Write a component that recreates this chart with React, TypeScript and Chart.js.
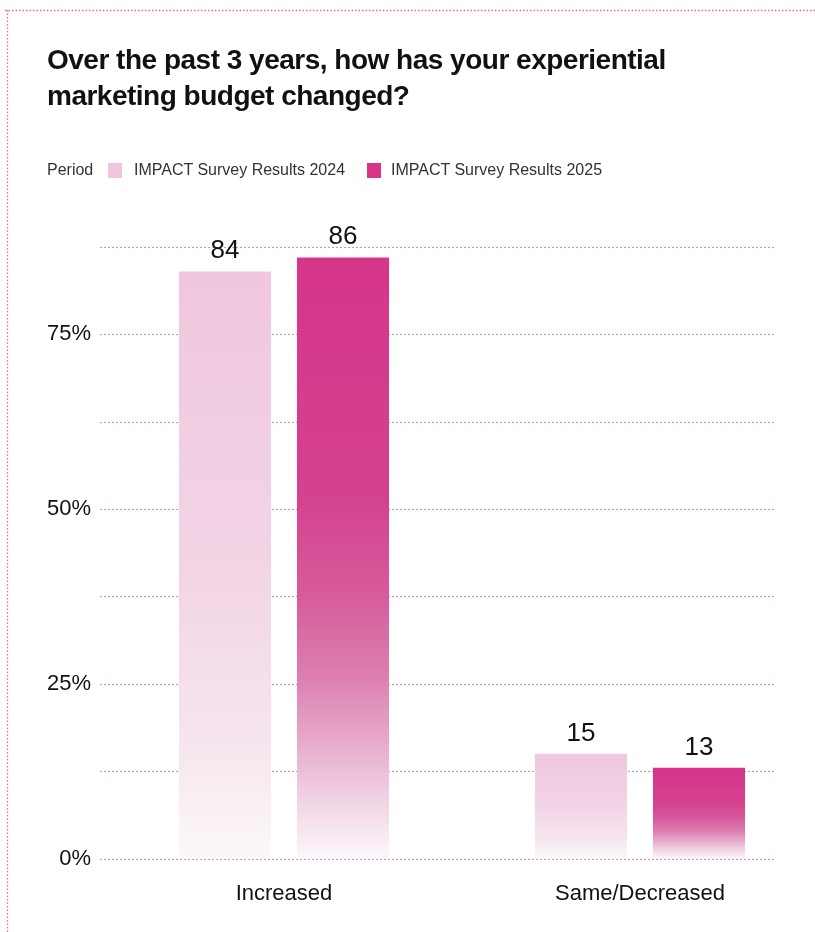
import React, { useEffect, useRef } from "react";
import { Chart, registerables } from "chart.js";

Chart.register(...registerables);

const categories = ["Increased", "Same/Decreased"];
const series2024 = [84, 15];
const series2025 = [86, 13];
const seriesNames = ["IMPACT Survey Results 2024", "IMPACT Survey Results 2025"];
const yTickValues = [0, 25, 50, 75];
const titleLines = ["Over the past 3 years, how has your experiential", "marketing budget changed?"];

const FONT = "'Liberation Sans', Arial, sans-serif";
const PINK_LIGHT = "#f0c6de";
const PINK_DARK = "#d6358a";

const stops2024: [number, string][] = [
  [0, "#f0c7de"],
  [0.5, "#f2d4e5"],
  [0.8, "#f6e5ee"],
  [1, "#fbf8f9"],
];
const stops2025: [number, string][] = [
  [0, "#d6358a"],
  [0.4, "#d4428f"],
  [0.56, "#d65b9c"],
  [0.7, "#dc80b1"],
  [0.8, "#e6a8ca"],
  [0.9, "#f1d2e3"],
  [1, "#fcf7fa"],
];

function gradientFill(stops: [number, string][], fallback: string) {
  return (ctx: any) => {
    const chart = ctx.chart;
    if (!chart.chartArea || ctx.type !== "data") return fallback;
    const y = chart.scales.y;
    const v = ctx.parsed ? ctx.parsed.y : ctx.raw;
    const top = y.getPixelForValue(v);
    const base = y.getPixelForValue(0);
    const g = chart.ctx.createLinearGradient(0, top, 0, base);
    stops.forEach(([o, c]) => g.addColorStop(o, c));
    return g;
  };
}

const framePlugin = {
  id: "frameAndGrid",
  beforeDatasetsDraw(chart: any) {
    const c = chart.ctx;
    const y = chart.scales.y;
    c.save();
    // frame
    c.strokeStyle = "#ee62aa";
    c.lineWidth = 1.3;
    c.setLineDash([1.5, 2]);
    c.beginPath();
    c.moveTo(5, 10.5);
    c.lineTo(815, 10.5);
    c.moveTo(7.5, 10);
    c.lineTo(7.5, 932);
    c.stroke();
    // grid
    c.lineWidth = 1;
    c.strokeStyle = "#e586bb";
    c.setLineDash([2, 2]);
    y.ticks.forEach((t: any) => {
      const py = Math.round(y.getPixelForValue(t.value)) + 0.5;
      c.beginPath();
      c.moveTo(100, py);
      c.lineTo(775, py);
      c.stroke();
    });
    c.restore();
  },
  afterDatasetsDraw(chart: any) {
    const c = chart.ctx;
    c.save();
    c.fillStyle = "#111";
    c.font = `26px ${FONT}`;
    c.textAlign = "center";
    c.textBaseline = "alphabetic";
    chart.data.datasets.forEach((ds: any, i: number) => {
      const meta = chart.getDatasetMeta(i);
      meta.data.forEach((el: any, j: number) => {
        c.fillText(String(ds.data[j]), el.x, el.y - 13);
      });
    });
    c.restore();
  },
};

export default function App() {
  const ref = useRef<HTMLCanvasElement | null>(null);
  useEffect(() => {
    if (!ref.current) return;
    const chart = new Chart(ref.current, {
      type: "bar",
      data: {
        labels: categories,
        datasets: [
          {
            label: seriesNames[0],
            data: series2024,
            backgroundColor: gradientFill(stops2024, PINK_LIGHT),
            borderWidth: 0,
            categoryPercentage: 0.663,
            barPercentage: 0.78,
          },
          {
            label: seriesNames[1],
            data: series2025,
            backgroundColor: gradientFill(stops2025, PINK_DARK),
            borderWidth: 0,
            categoryPercentage: 0.663,
            barPercentage: 0.78,
          },
        ],
      },
      options: {
        animation: false,
        responsive: false,
        maintainAspectRatio: false,
        layout: { padding: { top: 247, right: 175, bottom: 3, left: 0 } },
        plugins: { legend: { display: false }, tooltip: { enabled: false }, title: { display: false } },
        datasets: { bar: { clip: false } as any },
        scales: {
          x: {
            offset: false,
            grid: { display: false, drawTicks: false, tickLength: 0 },
            border: { display: false },
            ticks: { color: "#111", font: { family: FONT, size: 22 }, padding: 22, maxRotation: 0, autoSkip: false },
          },
          y: {
            min: 0,
            max: 87.5,
            afterFit(scale: any) {
              scale.width = 284;
              scale.paddingTop = 0;
              scale.paddingBottom = 0;
            },
            afterBuildTicks(scale: any) {
              const t = [];
              for (let v = 0; v <= 87.5; v += 12.5) t.push({ value: v });
              scale.ticks = t;
            },
            grid: { display: false, drawTicks: false, tickLength: 0 },
            border: { display: false },
            ticks: {
              color: "#111",
              font: { family: FONT, size: 22 },
              padding: 193,
              callback: (v: any) => (yTickValues.includes(Number(v)) ? `${v}%` : ""),
            },
          },
        },
      },
      plugins: [framePlugin],
    });
    return () => chart.destroy();
  }, []);

  return (
    <div style={{ position: "absolute", left: 0, top: 0, width: 815, height: 932, background: "#fff", overflow: "hidden" }}>
      <canvas ref={ref} width={815} height={932} style={{ position: "absolute", left: 0, top: 0, width: 815, height: 932 }} />
      <div
        style={{
          position: "absolute",
          left: 47,
          top: 42,
          fontFamily: FONT,
          fontWeight: 700,
          fontSize: 28,
          lineHeight: "36px",
          color: "#111",
          letterSpacing: -0.5,
        }}
      >
        {titleLines.map((l) => (
          <div key={l}>{l}</div>
        ))}
      </div>
      <div
        style={{
          position: "absolute",
          left: 47,
          top: 160,
          height: 20,
          display: "flex",
          alignItems: "center",
          fontFamily: FONT,
          fontSize: 16,
          color: "#333",
          whiteSpace: "nowrap",
        }}
      >
        <span style={{ width: 61 }}>Period</span>
        <span style={{ display: "inline-block", width: 14, height: 15, background: PINK_LIGHT, marginRight: 12 }} />
        <span style={{ width: 233 }}>{seriesNames[0]}</span>
        <span style={{ display: "inline-block", width: 14, height: 15, background: PINK_DARK, marginRight: 10 }} />
        <span>{seriesNames[1]}</span>
      </div>
    </div>
  );
}
